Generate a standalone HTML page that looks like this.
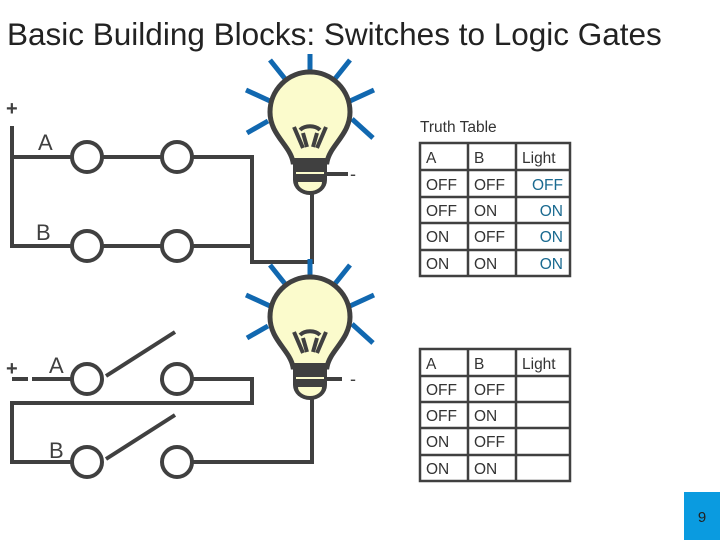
<!DOCTYPE html>
<html><head><meta charset="utf-8"><style>
body{margin:0;width:720px;height:540px;background:#fff;overflow:hidden;font-family:"Liberation Sans",sans-serif}
</style></head><body>
<svg width="720" height="540" xmlns="http://www.w3.org/2000/svg" font-family="Liberation Sans, sans-serif">
<defs>
<g id="bulb">
 <g stroke="#1168b0" stroke-width="5" stroke-linecap="butt">
  <line x1="310" y1="54" x2="310" y2="76"/>
  <line x1="270" y1="60" x2="286" y2="80"/>
  <line x1="350" y1="60" x2="334" y2="80"/>
  <line x1="246" y1="90" x2="270" y2="101"/>
  <line x1="374" y1="90" x2="350" y2="101"/>
  <line x1="247" y1="133" x2="268" y2="121"/>
  <line x1="373" y1="138" x2="352" y2="119"/>
 </g>
 <path d="M293 162 C 290 145 270 135 270 112 A 40 40 0 0 1 350 112 C 350 135 330 145 327 162 Z" fill="#fbfbcc" stroke="#404040" stroke-width="5"/>
 <path d="M293 158 H327 V180 A17 15 0 0 1 293 180 Z" fill="#404040"/>
 <path d="M298 182 H322 A12 9 0 0 1 298 182 Z" fill="#fbfbcc"/>
 <line x1="296" y1="173" x2="324" y2="173" stroke="#fbfbcc" stroke-width="2"/>
 <path d="M294 127 L303 148 M326 127 L317 148 M300 130 C305 125 315 125 320 130 M303 133 L307 147 M317 133 L313 147" stroke="#404040" stroke-width="4" fill="none"/>
</g>
</defs>
<text x="7" y="45" font-size="31.5" fill="#222">Basic Building Blocks: Switches to Logic Gates</text>
<g stroke="#404040" stroke-width="4" fill="none">
 <line x1="12" y1="126" x2="12" y2="248"/>
 <line x1="10" y1="157" x2="72" y2="157"/>
 <circle cx="87" cy="157" r="15" fill="#fff"/>
 <line x1="102" y1="157" x2="162" y2="157"/>
 <circle cx="177" cy="157" r="15" fill="#fff"/>
 <line x1="192" y1="157" x2="252" y2="157"/>
 <line x1="252" y1="155" x2="252" y2="264"/>
 <line x1="10" y1="246" x2="72" y2="246"/>
 <circle cx="87" cy="246" r="15" fill="#fff"/>
 <line x1="102" y1="246" x2="162" y2="246"/>
 <circle cx="177" cy="246" r="15" fill="#fff"/>
 <line x1="192" y1="246" x2="252" y2="246"/>
 <line x1="250" y1="262" x2="312" y2="262"/>
 <line x1="312" y1="192" x2="312" y2="264"/>
 <line x1="326" y1="174" x2="348" y2="174"/>
 <line x1="12" y1="379" x2="28" y2="379"/>
 <line x1="32" y1="379" x2="72" y2="379"/>
 <circle cx="87" cy="379" r="15" fill="#fff"/>
 <line x1="106" y1="376" x2="175" y2="332"/>
 <circle cx="177" cy="379" r="15" fill="#fff"/>
 <line x1="192" y1="379" x2="252" y2="379"/>
 <line x1="252" y1="377" x2="252" y2="405"/>
 <line x1="254" y1="403" x2="12" y2="403"/>
 <line x1="12" y1="401" x2="12" y2="464"/>
 <line x1="10" y1="462" x2="72" y2="462"/>
 <circle cx="87" cy="462" r="15" fill="#fff"/>
 <line x1="106" y1="459" x2="175" y2="415"/>
 <circle cx="177" cy="462" r="15" fill="#fff"/>
 <line x1="192" y1="462" x2="314" y2="462"/>
 <line x1="312" y1="395" x2="312" y2="464"/>
 <line x1="326" y1="379" x2="342" y2="379"/>
</g>
<use href="#bulb"/>
<use href="#bulb" transform="translate(0,205)"/>
<g fill="#404040" font-size="22">
 <text x="6" y="115" font-weight="bold" font-size="20">+</text>
 <text x="6" y="375" font-weight="bold" font-size="20">+</text>
 <text x="38" y="150">A</text>
 <text x="36" y="240">B</text>
 <text x="49" y="373">A</text>
 <text x="49" y="458">B</text>
 <text x="350" y="180" font-size="18">-</text>
 <text x="350" y="385" font-size="18">-</text>
</g>
<text x="420" y="132" font-size="15.5" fill="#333">Truth Table</text>
<g stroke="#404040" stroke-width="2.5" fill="none">
 <rect x="420" y="143" width="150" height="133"/>
 <line x1="468" y1="143" x2="468" y2="276"/><line x1="516" y1="143" x2="516" y2="276"/>
 <line x1="420" y1="170" x2="570" y2="170"/><line x1="420" y1="197" x2="570" y2="197"/>
 <line x1="420" y1="223" x2="570" y2="223"/><line x1="420" y1="250" x2="570" y2="250"/>
 <rect x="420" y="349" width="150" height="132"/>
 <line x1="468" y1="349" x2="468" y2="481"/><line x1="516" y1="349" x2="516" y2="481"/>
 <line x1="420" y1="376" x2="570" y2="376"/><line x1="420" y1="402" x2="570" y2="402"/>
 <line x1="420" y1="428" x2="570" y2="428"/><line x1="420" y1="455" x2="570" y2="455"/>
</g>
<g font-size="15.5" fill="#333">
 <text x="426" y="163">A</text><text x="474" y="163">B</text><text x="522" y="163">Light</text>
 <text x="426" y="190">OFF</text><text x="474" y="190">OFF</text>
 <text x="426" y="216">OFF</text><text x="474" y="216">ON</text>
 <text x="426" y="242">ON</text><text x="474" y="242">OFF</text>
 <text x="426" y="269">ON</text><text x="474" y="269">ON</text>
 <text x="426" y="369">A</text><text x="474" y="369">B</text><text x="522" y="369">Light</text>
 <text x="426" y="395">OFF</text><text x="474" y="395">OFF</text>
 <text x="426" y="421">OFF</text><text x="474" y="421">ON</text>
 <text x="426" y="447">ON</text><text x="474" y="447">OFF</text>
 <text x="426" y="474">ON</text><text x="474" y="474">ON</text>
</g>
<g font-size="15.5" fill="#1a6a90" text-anchor="end">
 <text x="563" y="190">OFF</text><text x="563" y="216">ON</text>
 <text x="563" y="242">ON</text><text x="563" y="269">ON</text>
</g>
<rect x="684" y="492" width="36" height="48" fill="#0a9be0"/>
<text x="702" y="522" font-size="15" fill="#222" text-anchor="middle">9</text>
</svg>
</body></html>
